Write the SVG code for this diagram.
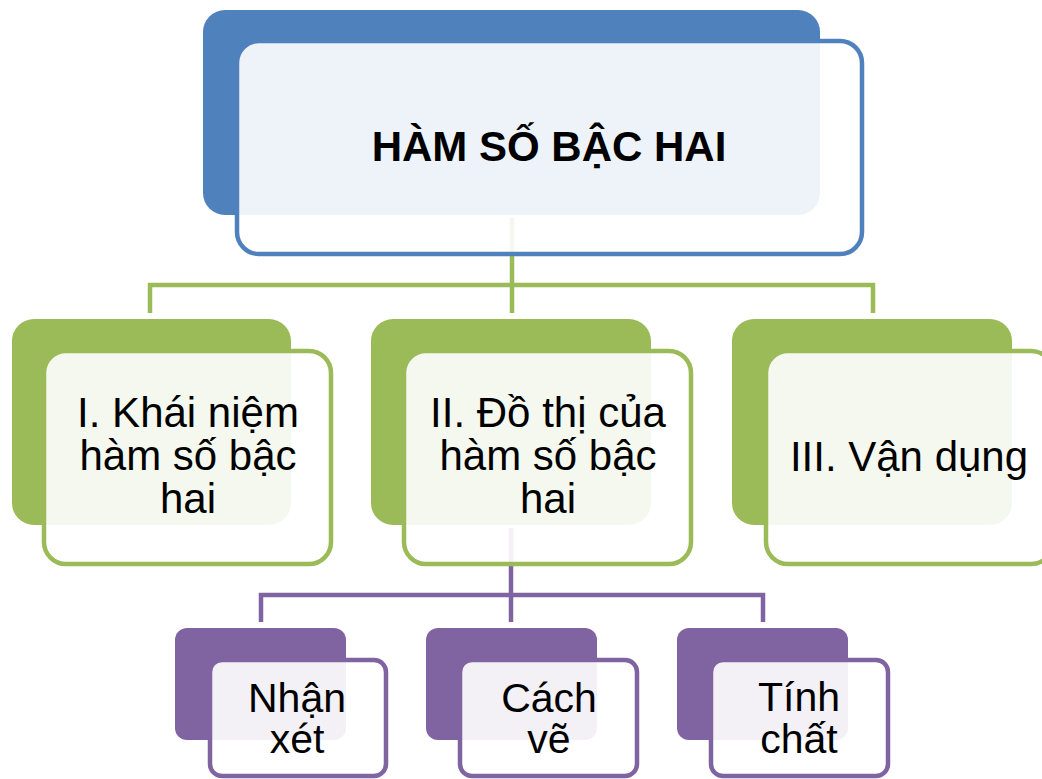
<svg xmlns="http://www.w3.org/2000/svg" width="1042" height="779" viewBox="0 0 1042 779">
<style>
.bg{fill:#ffffff}
.back-blue{fill:#4F81BD}
.back-green{fill:#9BBB59}
.back-purple{fill:#8064A2}
.front{fill:#ffffff;fill-opacity:0.9;stroke-width:4.5}
.fb{stroke:#4F81BD}
.fg{stroke:#9BBB59}
.fp{stroke:#8064A2}
.cg{fill:none;stroke:#9BBB59;stroke-width:4.5}
.cp{fill:none;stroke:#8064A2;stroke-width:4.5}
.t{font-family:"Liberation Sans",Arial,sans-serif;font-size:42px;fill:#000;text-anchor:middle}
.ts{font-size:41px}
.tb{font-weight:bold}
</style>
<rect class="bg" x="0" y="0" width="1042" height="779"/>
<g id="connectors">
<path class="cg" d="M512,218 V313 M150,313 V285 H873 V313"/>
<path class="cp" d="M511,528 V622 M261,622 V595 H763 V622"/>
</g>
<g id="root">
<rect class="back-blue" x="203" y="10" width="617" height="205" rx="22"/>
<rect class="front fb" x="237" y="41" width="625" height="213" rx="22"/>
<text class="t tb" x="549" y="161">HÀM SỐ BẬC HAI</text>
</g>
<g id="n1">
<rect class="back-green" x="12" y="319" width="279" height="206" rx="22"/>
<rect class="front fg" x="44" y="351" width="287" height="213" rx="22"/>
<text class="t" x="188" y="427">I. Khái niệm</text>
<text class="t" x="188" y="470">hàm số bậc</text>
<text class="t" x="188" y="513">hai</text>
</g>
<g id="n2">
<rect class="back-green" x="371" y="319" width="280" height="206" rx="22"/>
<rect class="front fg" x="404" y="351" width="287" height="213" rx="22"/>
<text class="t" x="548" y="427">II. Đồ thị của</text>
<text class="t" x="548" y="470">hàm số bậc</text>
<text class="t" x="548" y="513">hai</text>
</g>
<g id="n3">
<rect class="back-green" x="732" y="319" width="280" height="206" rx="22"/>
<rect class="front fg" x="766" y="351" width="287" height="213" rx="22"/>
<text class="t" x="909" y="471">III. Vận dụng</text>
</g>
<g id="p1">
<rect class="back-purple" x="175" y="628" width="171" height="112" rx="12"/>
<rect class="front fp" x="210" y="660" width="176" height="116" rx="12"/>
<text class="t ts" x="297" y="712">Nhận</text>
<text class="t ts" x="297" y="753">xét</text>
</g>
<g id="p2">
<rect class="back-purple" x="426" y="628" width="171" height="112" rx="12"/>
<rect class="front fp" x="460" y="660" width="177" height="116" rx="12"/>
<text class="t ts" x="549" y="712">Cách</text>
<text class="t ts" x="549" y="753">vẽ</text>
</g>
<g id="p3">
<rect class="back-purple" x="677" y="628" width="171" height="112" rx="12"/>
<rect class="front fp" x="711" y="660" width="177" height="116" rx="12"/>
<text class="t ts" x="799" y="711">Tính</text>
<text class="t ts" x="799" y="753">chất</text>
</g>
</svg>
